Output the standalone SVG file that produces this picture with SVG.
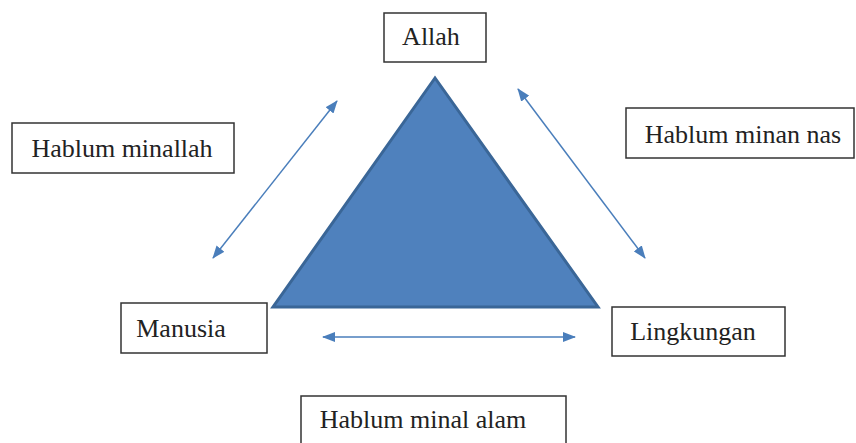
<svg xmlns="http://www.w3.org/2000/svg" width="856" height="443" viewBox="0 0 856 443">
<defs>
<marker id="ah" viewBox="0 0 13 10" refX="12" refY="5" markerWidth="13" markerHeight="10" markerUnits="userSpaceOnUse" orient="auto-start-reverse">
<path d="M0,0 L13,5 L0,10 z" fill="#4A7EBB"/>
</marker>
<style>
.box{fill:#fff;stroke:#333;stroke-width:1.5}
.t{font-family:"Times New Roman","Liberation Serif",serif;font-size:26px;fill:#222}
.c{stroke:#4A7EBB;stroke-width:1.5;fill:none;marker-start:url(#ah);marker-end:url(#ah)}
</style>
</defs>
<rect width="856" height="443" fill="#fff"/>
<g id="triangle">
<polygon points="435,78 273,307 598,307" fill="#4F81BD" stroke="#3A6697" stroke-width="3" stroke-linejoin="miter"/>
</g>
<g id="connectors">
<line class="c" x1="213" y1="258" x2="337" y2="101"/>
<line class="c" x1="518" y1="89" x2="645" y2="258"/>
<line class="c" x1="323" y1="337" x2="575" y2="337"/>
</g>
<g id="allah">
<rect class="box" x="384" y="13" width="102" height="49"/>
<text class="t" x="431" y="45" text-anchor="middle">Allah</text>
</g>
<g id="hablum-minallah">
<rect class="box" x="12" y="123" width="222" height="50"/>
<text class="t" x="122" y="157" text-anchor="middle">Hablum minallah</text>
</g>
<g id="hablum-minan-nas">
<rect class="box" x="626" y="108" width="228" height="50"/>
<text class="t" x="743" y="143" text-anchor="middle">Hablum minan nas</text>
</g>
<g id="manusia">
<rect class="box" x="121" y="303" width="146" height="50"/>
<text class="t" x="181" y="337" text-anchor="middle">Manusia</text>
</g>
<g id="lingkungan">
<rect class="box" x="612" y="307" width="173" height="49"/>
<text class="t" x="693" y="340" text-anchor="middle">Lingkungan</text>
</g>
<g id="hablum-minal-alam">
<rect class="box" x="301" y="396" width="265" height="60"/>
<text class="t" x="423" y="428" text-anchor="middle">Hablum minal alam</text>
</g>
</svg>
